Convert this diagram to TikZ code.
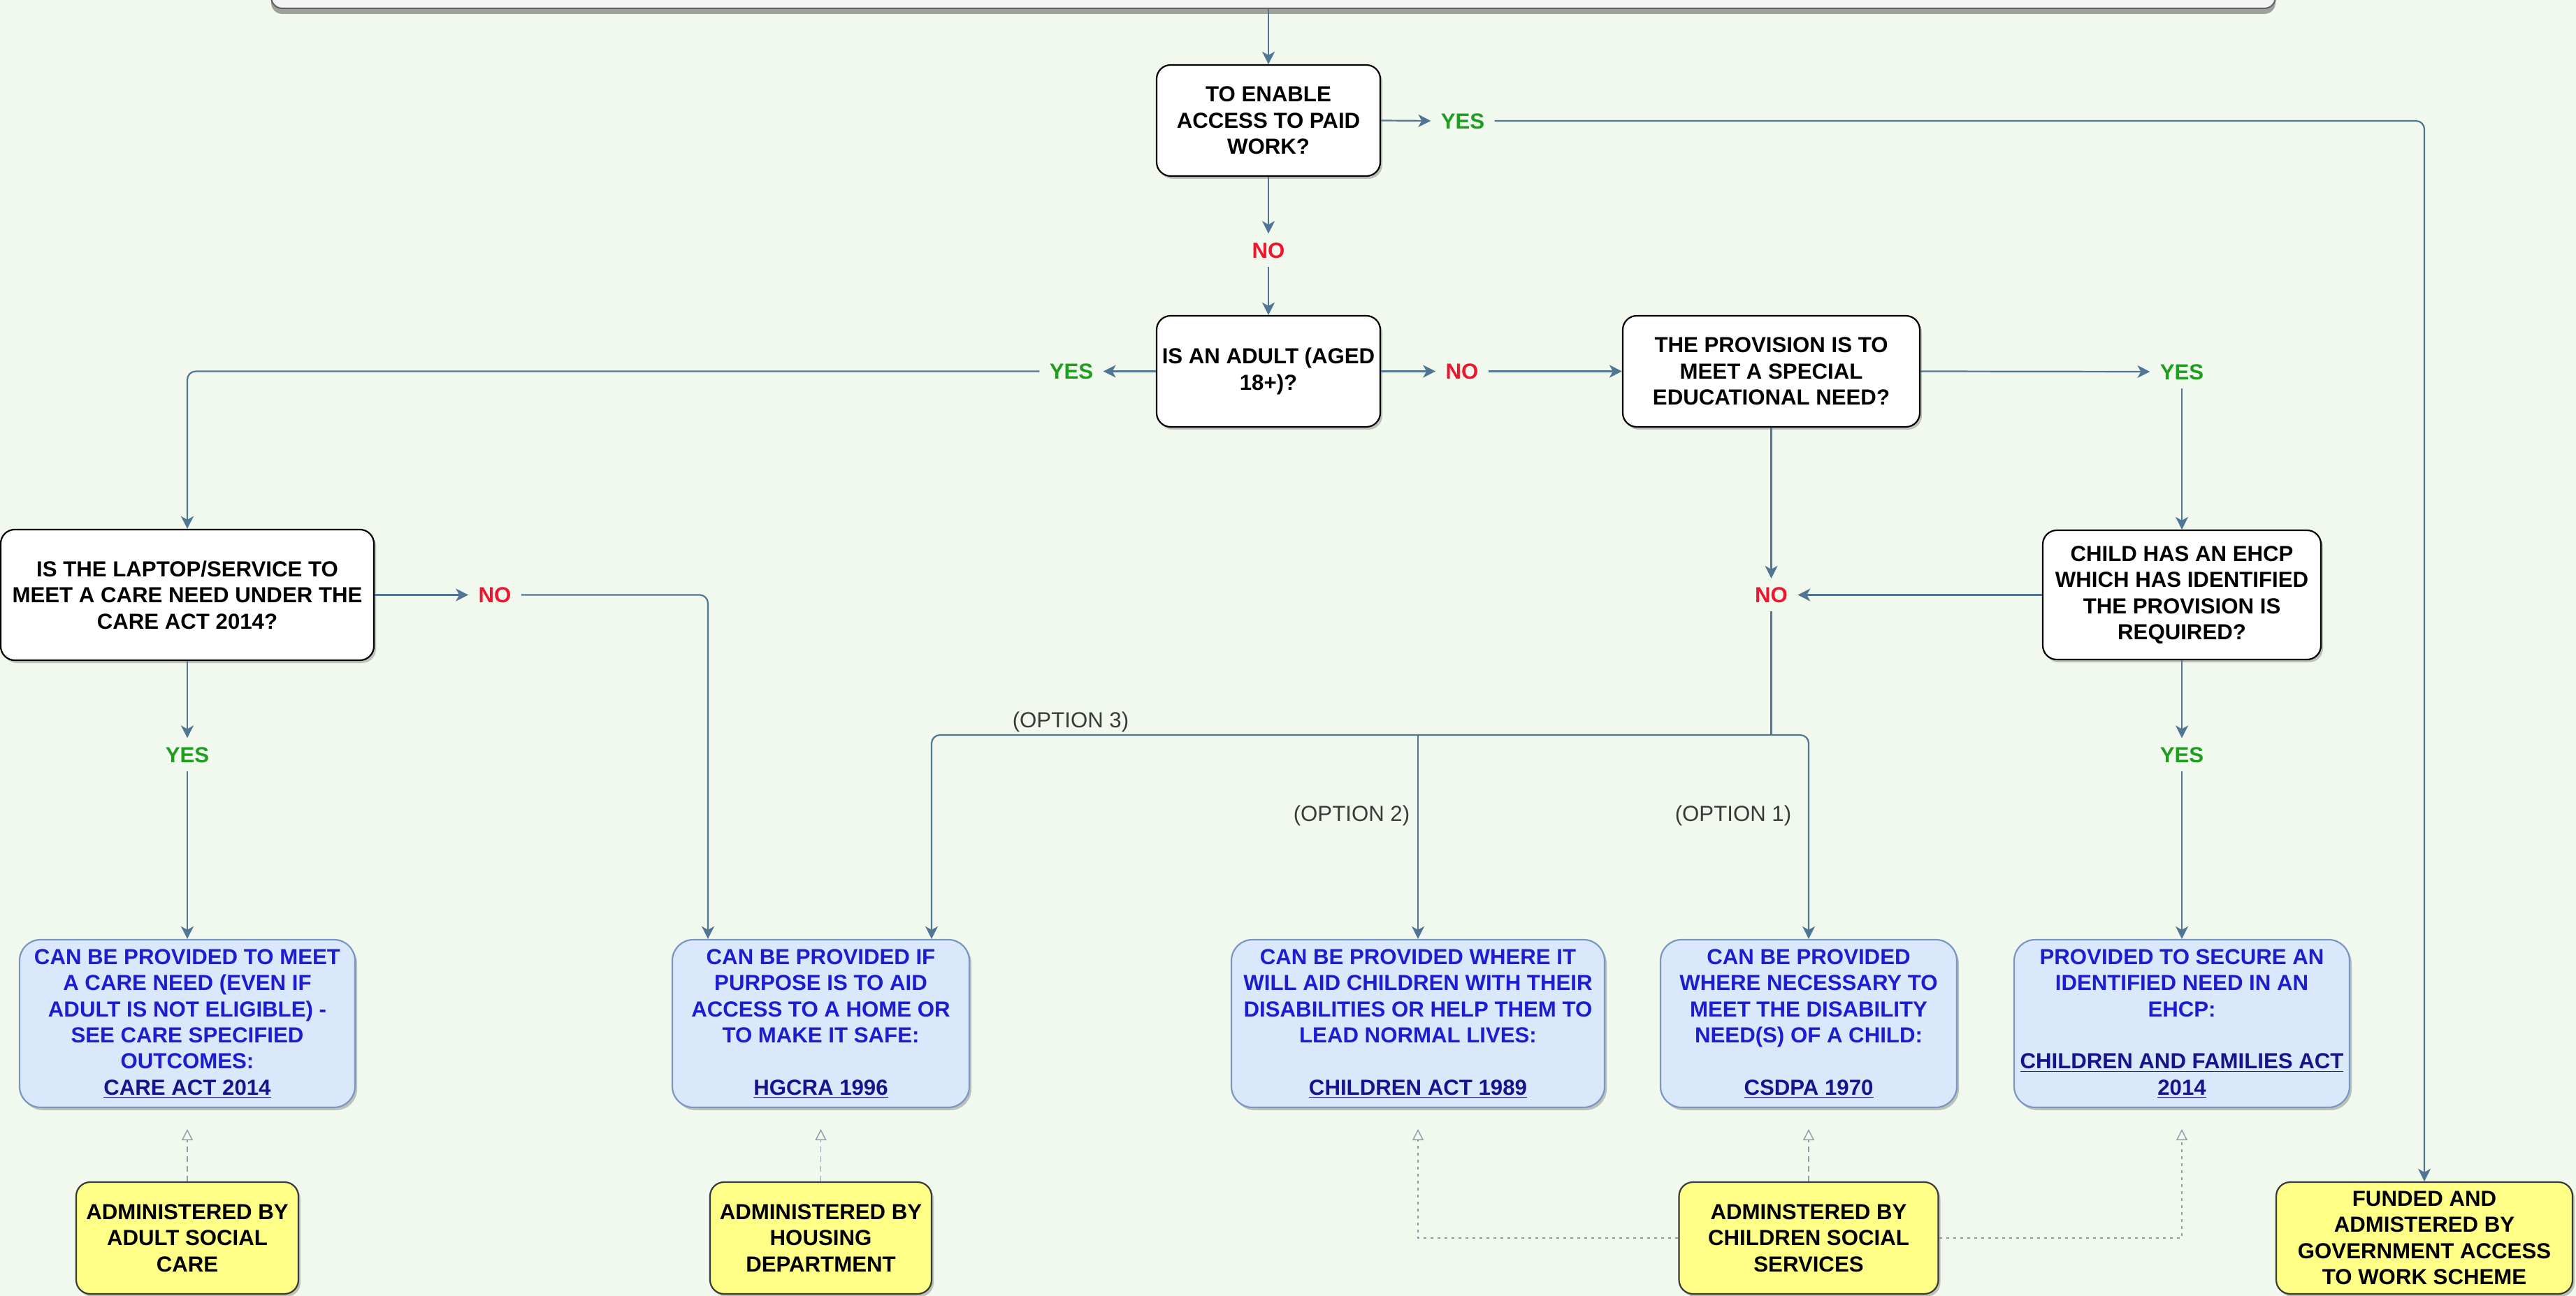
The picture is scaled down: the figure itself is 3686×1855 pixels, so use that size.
\documentclass[tikz,border=0pt]{standalone}
\usepackage{fontspec}
\setmainfont{Liberation Sans}
\usetikzlibrary{arrows.meta,shadows,calc}
\definecolor{bgc}{HTML}{F1F9EE}
\definecolor{linec}{HTML}{4F7694}
\definecolor{bluefill}{HTML}{DAE8FC}
\definecolor{blueline}{HTML}{7A96C2}
\definecolor{bluetext}{HTML}{1C1CD0}
\definecolor{linktext}{HTML}{14148C}
\definecolor{yelfill}{HTML}{FFFF88}
\definecolor{yelline}{HTML}{3A3A3A}
\definecolor{yesc}{HTML}{1E9E1E}
\definecolor{noc}{HTML}{F0142D}
\definecolor{optc}{HTML}{3A3A3A}
\definecolor{dashc}{HTML}{8C9CA8}
\definecolor{bannerfill}{HTML}{F4F4F7}
\newcommand{\boxfont}{\fontsize{15.6pt}{18.7pt}\selectfont\bfseries}
\newcommand{\optfont}{\fontsize{15.6pt}{18.7pt}\selectfont}
\newcommand{\lnk}[1]{{\color{linktext}\underline{#1}}}
\begin{document}
\begin{tikzpicture}[x=0.5pt,y=-0.5pt,
 shd/.style={drop shadow={shadow xshift=1.5pt,shadow yshift=-2pt,opacity=0.22,fill=black}},
 qbox/.style={draw=black,line width=1.1pt,fill=white,rounded corners=10pt,align=center,font=\boxfont,text=black,inner sep=0pt,shd},
 bbox/.style={draw=blueline,line width=1.1pt,fill=bluefill,rounded corners=15pt,align=center,font=\boxfont,text=bluetext,inner sep=0pt,shd,minimum height=120pt},
 ybox/.style={draw=yelline,line width=1.1pt,fill=yelfill,rounded corners=10pt,align=center,font=\boxfont,text=black,inner sep=0pt,shd,minimum height=80pt},
 lbl/.style={font=\boxfont,inner xsep=7pt,inner ysep=6pt,text height=11.2pt,text depth=0pt},
 yes/.style={lbl,text=yesc},
 no/.style={lbl,text=noc},
 opt/.style={font=\optfont,text=optc,inner sep=0pt},
 conn/.style={draw=linec,line width=1.1pt,-{Stealth[length=9pt,width=9pt,inset=2.5pt]}},
 plain/.style={draw=linec,line width=1.1pt},
 dconn/.style={draw=dashc,line width=0.7pt,dash pattern=on 4pt off 3pt,-{Triangle[open,length=8pt,width=8pt]},shorten >=15pt},
 dotconn/.style={dconn,dash pattern=on 2pt off 3pt}
]
\fill[bgc] (0,0) rectangle (3686,1855);
\clip (0,0) rectangle (3686,1855);

% banner (cut off at top)
\node[draw=gray!75!black,line width=1pt,fill=bannerfill,rounded corners=8pt,minimum width=1434pt,minimum height=60pt,inner sep=0pt,
      drop shadow={shadow xshift=0pt,shadow yshift=-4pt,opacity=0.35,fill=black}] (banner) at (1822,-48) {};

% question boxes
\node[qbox,minimum width=160pt,minimum height=79.5pt] (q1) at (1815,172.5) {TO ENABLE\\ACCESS TO PAID\\WORK?};
\node[qbox,minimum width=160pt,minimum height=79.5pt] (q2) at (1815,531.5) {IS AN ADULT (AGED\\18+)?};
\node[qbox,minimum width=212.5pt,minimum height=79.5pt] (q3) at (2534.5,531.5) {THE PROVISION IS TO\\MEET A SPECIAL\\EDUCATIONAL NEED?};
\node[qbox,minimum width=267pt,minimum height=93.5pt] (q4) at (268,851.5) {IS THE LAPTOP/SERVICE TO\\MEET A CARE NEED UNDER THE\\CARE ACT 2014?};
\node[qbox,minimum width=199pt,minimum height=92.5pt] (q5) at (3122,851.5) {CHILD HAS AN EHCP\\WHICH HAS IDENTIFIED\\THE PROVISION IS\\REQUIRED?};

% outcome boxes
\node[bbox,minimum width=240pt] (b1) at (268,1465) {CAN BE PROVIDED TO MEET\\A CARE NEED (EVEN IF\\ADULT IS NOT ELIGIBLE) -\\SEE CARE SPECIFIED\\OUTCOMES:\\\lnk{CARE ACT 2014}};
\node[bbox,minimum width=212.5pt] (b2) at (1174.5,1465) {CAN BE PROVIDED IF\\PURPOSE IS TO AID\\ACCESS TO A HOME OR\\TO MAKE IT SAFE:\\[18.7pt]\lnk{HGCRA 1996}};
\node[bbox,minimum width=267pt] (b3) at (2029,1465) {CAN BE PROVIDED WHERE IT\\WILL AID CHILDREN WITH THEIR\\DISABILITIES OR HELP THEM TO\\LEAD NORMAL LIVES:\\[18.7pt]\lnk{CHILDREN ACT 1989}};
\node[bbox,minimum width=212pt] (b4) at (2588,1465) {CAN BE PROVIDED\\WHERE NECESSARY TO\\MEET THE DISABILITY\\NEED(S) OF A CHILD:\\[18.7pt]\lnk{CSDPA 1970}};
\node[bbox,minimum width=240pt] (b5) at (3122,1465) {PROVIDED TO SECURE AN\\IDENTIFIED NEED IN AN\\EHCP:\\[18.7pt]\lnk{CHILDREN AND FAMILIES ACT}\\\lnk{2014}};

% administering boxes
\node[ybox,minimum width=159pt] (y1) at (268,1772) {ADMINISTERED BY\\ADULT SOCIAL\\CARE};
\node[ybox,minimum width=158.5pt] (y2) at (1174.5,1772) {ADMINISTERED BY\\HOUSING\\DEPARTMENT};
\node[ybox,minimum width=185.5pt] (y3) at (2588,1772) {ADMINSTERED BY\\CHILDREN SOCIAL\\SERVICES};
\node[ybox,minimum width=212pt] (y4) at (3469,1772) {FUNDED AND\\ADMISTERED BY\\GOVERNMENT ACCESS\\TO WORK SCHEME};

% edge labels
\node[yes] (yes1) at (2093,173) {YES};
\node[no] (no1) at (1815,358) {NO};
\node[yes] (yes2) at (1533,531.5) {YES};
\node[no] (no2) at (2092,531.5) {NO};
\node[yes] (yes3) at (3122,532) {YES};
\node[no] (no3) at (708,851.5) {NO};
\node[no] (no4) at (2534.5,851.5) {NO};
\node[yes] (yes4) at (268,1080) {YES};
\node[yes] (yes5) at (3122,1080) {YES};
\node[opt] (opt3) at (1532,1033) {(OPTION 3)};
\node[opt] (opt2) at (1934,1167) {(OPTION 2)};
\node[opt] (opt1) at (2480,1167) {(OPTION 1)};

\coordinate (bus) at (2534.5,1052);

% connectors
\draw[conn] (banner.south -| q1.north) -- (q1.north);
\draw[conn] (q1.south) -- (no1.north);
\draw[conn] (no1.south) -- (q2.north);
\draw[conn] (q1.east) -- (yes1.west);
\draw[conn,rounded corners=6pt] (yes1.east) -| (y4.north);
\draw[conn] (q2.west) -- (yes2.east);
\draw[conn,rounded corners=6pt] (yes2.west) -| (q4.north);
\draw[conn] (q2.east) -- (no2.west);
\draw[conn] (no2.east) -- (q3.west);
\draw[conn] (q3.east) -- (yes3.west);
\draw[conn] (yes3.south) -- (q5.north);
\draw[conn] (q3.south) -- (no4.north);
\draw[conn] (q5.west) -- (no4.east);
\draw[plain] (no4.south) -- (bus);
\draw[conn,rounded corners=6pt] (bus) -| ($(b2.north)+(158.5,0)$);
\draw[conn] (bus -| b3.north) -- (b3.north);
\draw[conn,rounded corners=6pt] (bus) -| (b4.north);
\draw[conn] (q4.east) -- (no3.west);
\draw[conn,rounded corners=6pt] (no3.east) -| ($(b2.north)+(-161.5,0)$);
\draw[conn] (q4.south) -- (yes4.north);
\draw[conn] (yes4.south) -- (b1.north);
\draw[conn] (q5.south) -- (yes5.north);
\draw[conn] (yes5.south) -- (b5.north);

% administration links
\draw[dconn] (y1.north) -- (b1.south);
\draw[dconn] (y2.north) -- (b2.south);
\draw[dconn] (y3.north) -- (b4.south);
\draw[dotconn] (y3.west) -| (b3.south);
\draw[dotconn] (y3.east) -| (b5.south);
\end{tikzpicture}
\end{document}
